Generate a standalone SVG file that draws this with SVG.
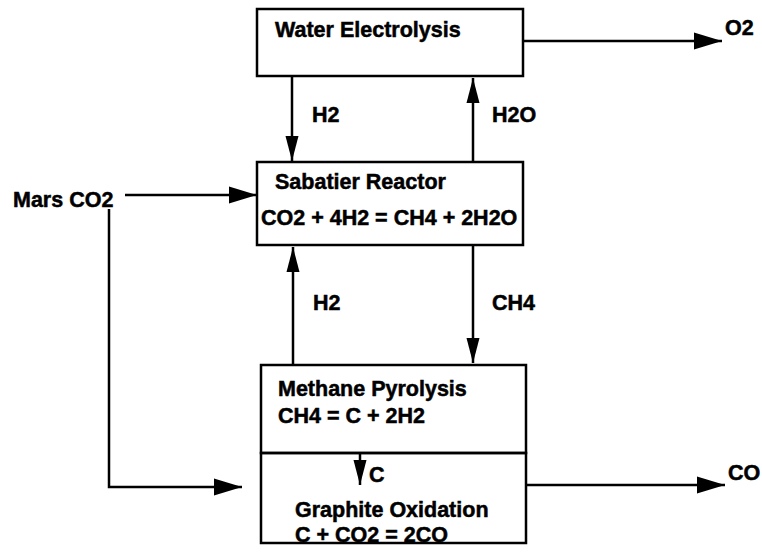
<svg xmlns="http://www.w3.org/2000/svg" width="762" height="554" viewBox="0 0 762 554">
<style>
  .box{fill:#fff;stroke:#000;stroke-width:2.5}
  .ln{fill:none;stroke:#000;stroke-width:2.5}
  text{font-family:"Liberation Sans",Arial,Helvetica,sans-serif;font-weight:bold;font-size:21.5px;fill:#000;stroke:#000;stroke-width:0.5}
</style>
<defs>
  <marker id="ah" markerUnits="userSpaceOnUse" markerWidth="30" markerHeight="20" refX="28" refY="8.5" orient="auto" overflow="visible">
    <path d="M0,0 L28,8.5 L0,17 z" fill="#000"/>
  </marker>
  <marker id="av" markerUnits="userSpaceOnUse" markerWidth="27" markerHeight="15" refX="25" refY="6.5" orient="auto" overflow="visible">
    <path d="M0,0 L25,6.5 L0,13 z" fill="#000"/>
  </marker>
</defs>
<g id="connectors">
  <line class="ln" x1="523" y1="41" x2="722" y2="41" marker-end="url(#ah)"/>
  <line class="ln" x1="292" y1="77" x2="292" y2="161" marker-end="url(#av)"/>
  <line class="ln" x1="473" y1="162" x2="473" y2="78" marker-end="url(#av)"/>
  <line class="ln" x1="125" y1="195" x2="257" y2="195" marker-end="url(#ah)"/>
  <polyline class="ln" points="109,209 109,487 242,487" marker-end="url(#ah)"/>
  <line class="ln" x1="293" y1="365" x2="293" y2="247" marker-end="url(#av)"/>
  <line class="ln" x1="473" y1="245" x2="473" y2="363" marker-end="url(#av)"/>
  <line class="ln" x1="360" y1="436" x2="360" y2="485" marker-end="url(#av)"/>
  <line class="ln" x1="526" y1="485" x2="725" y2="485" marker-end="url(#ah)"/>
</g>
<g id="water-electrolysis">
  <rect class="box" x="257" y="9" width="266" height="67"/>
  <text x="275" y="37">Water Electrolysis</text>
</g>
<g id="sabatier-reactor">
  <rect class="box" x="257" y="162" width="266" height="83"/>
  <text x="275" y="189">Sabatier Reactor</text>
  <text x="261" y="225">CO2 + 4H2 = CH4 + 2H2O</text>
</g>
<g id="methane-pyrolysis">
  <rect class="box" x="261" y="365" width="265" height="88"/>
  <text x="278" y="396">Methane Pyrolysis</text>
  <text x="278" y="423">CH4 = C + 2H2</text>
</g>
<g id="graphite-oxidation">
  <rect class="box" x="261" y="453" width="265" height="90" style="fill:none"/>
  <text x="295" y="517">Graphite Oxidation</text>
  <text x="295" y="542">C + CO2 = 2CO</text>
</g>
<g id="labels">
  <text x="725" y="35">O2</text>
  <text x="312" y="122">H2</text>
  <text x="492" y="122">H2O</text>
  <text x="13" y="207">Mars CO2</text>
  <text x="313" y="310">H2</text>
  <text x="492" y="310">CH4</text>
  <text x="369" y="482">C</text>
  <text x="728" y="480">CO</text>
</g>
</svg>
